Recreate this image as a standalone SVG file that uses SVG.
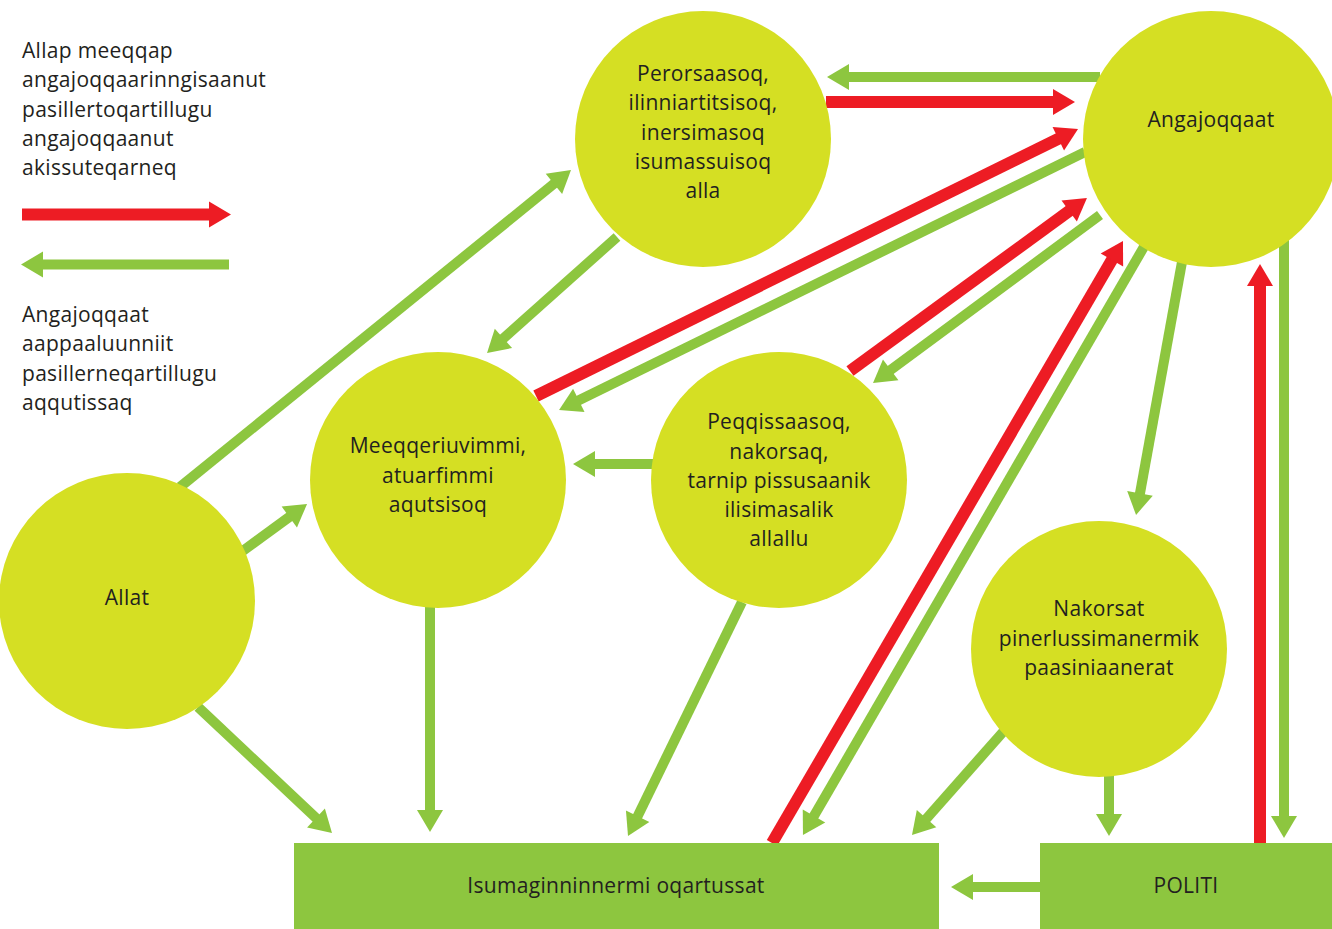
<svg xmlns="http://www.w3.org/2000/svg" width="1332" height="929" viewBox="0 0 1332 929">
<style>
.t{font-family:"Open Sans","Liberation Sans",sans-serif;font-size:21px;letter-spacing:0.3px;font-weight:500;fill:#231f20}
.c{text-anchor:middle}
.n{fill:#d5df23}
.r{fill:#8dc63f}
.g{stroke:#8dc63f;stroke-width:10;fill:none;marker-end:url(#ag)}
.rd{stroke:#ed1c24;stroke-width:12;fill:none;marker-end:url(#ar)}
</style>
<defs>
<marker id="ag" markerUnits="userSpaceOnUse" orient="auto" overflow="visible" refX="0" refY="0" markerWidth="30" markerHeight="30"><path d="M-1,-13 L21,0 L-1,13 z" fill="#8dc63f"/></marker>
<marker id="ar" markerUnits="userSpaceOnUse" orient="auto" overflow="visible" refX="0" refY="0" markerWidth="30" markerHeight="30"><path d="M-1,-13 L21,0 L-1,13 z" fill="#ed1c24"/></marker>
</defs>
<rect width="1332" height="929" fill="#fff"/>
<g id="legend">
<text class="t" x="22" y="58">Allap meeqqap</text>
<text class="t" x="22" y="87">angajoqqaarinngisaanut</text>
<text class="t" x="22" y="117">pasillertoqartillugu</text>
<text class="t" x="22" y="146">angajoqqaanut</text>
<text class="t" x="22" y="175">akissuteqarneq</text>
<line class="rd" x1="22" y1="214.5" x2="210" y2="214.5"/>
<line class="g" x1="229" y1="264.5" x2="42" y2="264.5"/>
<text class="t" x="22" y="322">Angajoqqaat</text>
<text class="t" x="22" y="351">aappaaluunniit</text>
<text class="t" x="22" y="381">pasillerneqartillugu</text>
<text class="t" x="22" y="410">aqqutissaq</text>
</g>
<g id="connectors">
<line class="g" x1="1100" y1="77" x2="848" y2="77"/>
<line class="rd" x1="826" y1="102" x2="1054" y2="102"/>
<line class="rd" x1="536" y1="396" x2="1059.2" y2="138.3"/>
<line class="g" x1="1085" y1="152" x2="577.9" y2="400.8"/>
<line class="rd" x1="850" y1="371" x2="1070" y2="210.4"/>
<line class="g" x1="1100" y1="215" x2="889.9" y2="370.5"/>
<line class="rd" x1="772" y1="843" x2="1112.4" y2="259.1"/>
<line class="g" x1="1145" y1="245" x2="813.5" y2="816.8"/>
<line class="g" x1="1182" y1="262" x2="1139.8" y2="494.3"/>
<line class="rd" x1="1260" y1="843" x2="1260" y2="285"/>
<line class="g" x1="1284" y1="240" x2="1284" y2="817"/>
<line class="g" x1="617" y1="237" x2="502.7" y2="339"/>
<line class="g" x1="180" y1="487" x2="554.7" y2="183.2"/>
<line class="g" x1="240" y1="553" x2="290.1" y2="516.4"/>
<line class="g" x1="655" y1="464" x2="594" y2="464"/>
<line class="g" x1="198" y1="707" x2="316.7" y2="818.6"/>
<line class="g" x1="430" y1="600" x2="430" y2="811"/>
<line class="g" x1="742" y1="602" x2="637.2" y2="817.1"/>
<line class="g" x1="1003" y1="732" x2="925.9" y2="819.3"/>
<line class="g" x1="1109" y1="770" x2="1109" y2="815"/>
<line class="g" x1="1040" y1="887" x2="972" y2="887"/>
</g>
<g id="perorsaasoq">
<circle class="n" cx="703" cy="139" r="128"/>
<text class="t c" x="703" y="81">Perorsaasoq,</text>
<text class="t c" x="703" y="110">ilinniartitsisoq,</text>
<text class="t c" x="703" y="140">inersimasoq</text>
<text class="t c" x="703" y="169">isumassuisoq</text>
<text class="t c" x="703" y="198">alla</text>
</g>
<g id="angajoqqaat">
<circle class="n" cx="1211" cy="139" r="128"/>
<text class="t c" x="1211" y="127">Angajoqqaat</text>
</g>
<g id="meeqqeriuvimmi">
<circle class="n" cx="438" cy="480" r="128"/>
<text class="t c" x="438" y="453">Meeqqeriuvimmi,</text>
<text class="t c" x="438" y="483">atuarfimmi</text>
<text class="t c" x="438" y="512">aqutsisoq</text>
</g>
<g id="peqqissaasoq">
<circle class="n" cx="779" cy="480" r="128"/>
<text class="t c" x="779" y="429">Peqqissaasoq,</text>
<text class="t c" x="779" y="459">nakorsaq,</text>
<text class="t c" x="779" y="488">tarnip pissusaanik</text>
<text class="t c" x="779" y="517">ilisimasalik</text>
<text class="t c" x="779" y="546">allallu</text>
</g>
<g id="allat">
<circle class="n" cx="127" cy="601" r="128"/>
<text class="t c" x="127" y="605">Allat</text>
</g>
<g id="nakorsat">
<circle class="n" cx="1099" cy="649" r="128"/>
<text class="t c" x="1099" y="616">Nakorsat</text>
<text class="t c" x="1099" y="646">pinerlussimanermik</text>
<text class="t c" x="1099" y="675">paasiniaanerat</text>
</g>
<g id="isumaginninnermi">
<rect class="r" x="294" y="843" width="645" height="86"/>
<text class="t c" x="616" y="893">Isumaginninnermi oqartussat</text>
</g>
<g id="politi">
<rect class="r" x="1040" y="843" width="292" height="86"/>
<text class="t c" x="1186" y="893">POLITI</text>
</g>
</svg>
